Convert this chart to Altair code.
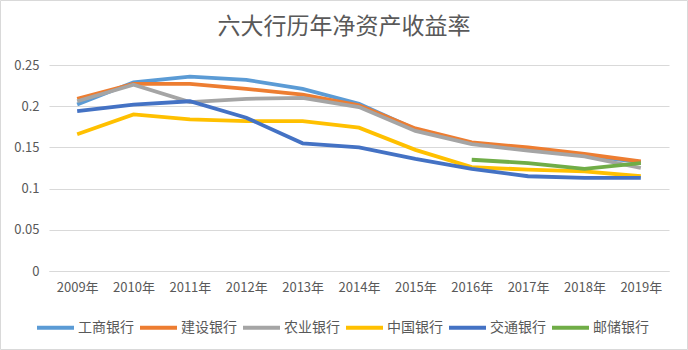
import altair as alt
import pandas as pd

years = ["2009年", "2010年", "2011年", "2012年", "2013年", "2014年",
         "2015年", "2016年", "2017年", "2018年", "2019年"]
banks = ["工商银行", "建设银行", "农业银行", "中国银行", "交通银行", "邮储银行"]
colors = ["#5B9BD5", "#ED7D31", "#A5A5A5", "#FFC000", "#4472C4", "#70AD47"]
title_text = "六大行历年净资产收益率"

icbc = [0.202, 0.229, 0.236, 0.232, 0.221, 0.203, 0.172, 0.155, 0.147, 0.140, 0.132]
ccb = [0.209, 0.227, 0.227, 0.221, 0.214, 0.201, 0.173, 0.156, 0.150, 0.142, 0.133]
abc = [0.206, 0.226, 0.205, 0.209, 0.210, 0.199, 0.170, 0.154, 0.146, 0.139, 0.125]
boc = [0.166, 0.190, 0.184, 0.182, 0.182, 0.174, 0.147, 0.126, 0.123, 0.121, 0.115]
bocom = [0.194, 0.202, 0.206, 0.186, 0.155, 0.150, 0.136, 0.124, 0.115, 0.113, 0.113]
psbc = [None, None, None, None, None, None, None, 0.135, 0.131, 0.124, 0.131]

series = [icbc, ccb, abc, boc, bocom, psbc]
rows = []
for bank, vals in zip(banks, series):
    for y, v in zip(years, vals):
        if v is not None:
            rows.append({"年份": y, "银行": bank, "ROE": v})
df = pd.DataFrame(rows)

FONT = "Noto Sans CJK SC"
GRAY = "#595959"

lines = alt.Chart(df).mark_line(strokeWidth=3.8).encode(
    x=alt.X("年份:N", sort=years,
            axis=alt.Axis(title=None, labelAngle=0, ticks=False, domainColor="#D9D9D9",
                          labelColor=GRAY, labelFontSize=13, labelFont=FONT, labelPadding=10,
                          grid=False),
            scale=alt.Scale(paddingInner=0, paddingOuter=0.5)),
    y=alt.Y("ROE:Q",
            scale=alt.Scale(domain=[0, 0.25]),
            axis=alt.Axis(title=None, values=[0, 0.05, 0.1, 0.15, 0.2, 0.25],
                          format="~g", domain=False, ticks=False, gridColor="#D9D9D9",
                          labelColor=GRAY, labelFontSize=13, labelFont=FONT, labelPadding=10)),
    color=alt.Color("银行:N", sort=banks,
                    scale=alt.Scale(domain=banks, range=colors),
                    legend=alt.Legend(title=None, orient="none", direction="horizontal",
                                      legendX=-14, legendY=242,
                                      symbolType="stroke", symbolSize=1369, symbolStrokeWidth=4,
                                      labelFont=FONT, labelFontSize=14, labelColor=GRAY,
                                      labelOffset=2, columnPadding=-2)),
    order=alt.Order("年份:N"),
)

title = alt.Chart(pd.DataFrame({"t": [title_text]})).mark_text(
    font=FONT, fontSize=23, color=GRAY, align="center", baseline="middle"
).encode(
    text="t:N", x=alt.value(295), y=alt.value(-38)
)

border = alt.Chart(pd.DataFrame({"a": [0]})).mark_rect(
    fill=None, stroke="#D9D9D9", strokeWidth=1
).encode(
    x=alt.value(-48.5), x2=alt.value(638.5), y=alt.value(-64.5), y2=alt.value(284.5)
)

chart = alt.layer(lines, title, border).properties(
    width=620, height=206,
    padding={"left": 49, "top": 65, "right": 19, "bottom": 79},
    autosize=alt.AutoSizeParams(type="none"),
).configure_view(stroke=None)

chart.save("out.html", embed_options={"renderer": "svg", "actions": False})
